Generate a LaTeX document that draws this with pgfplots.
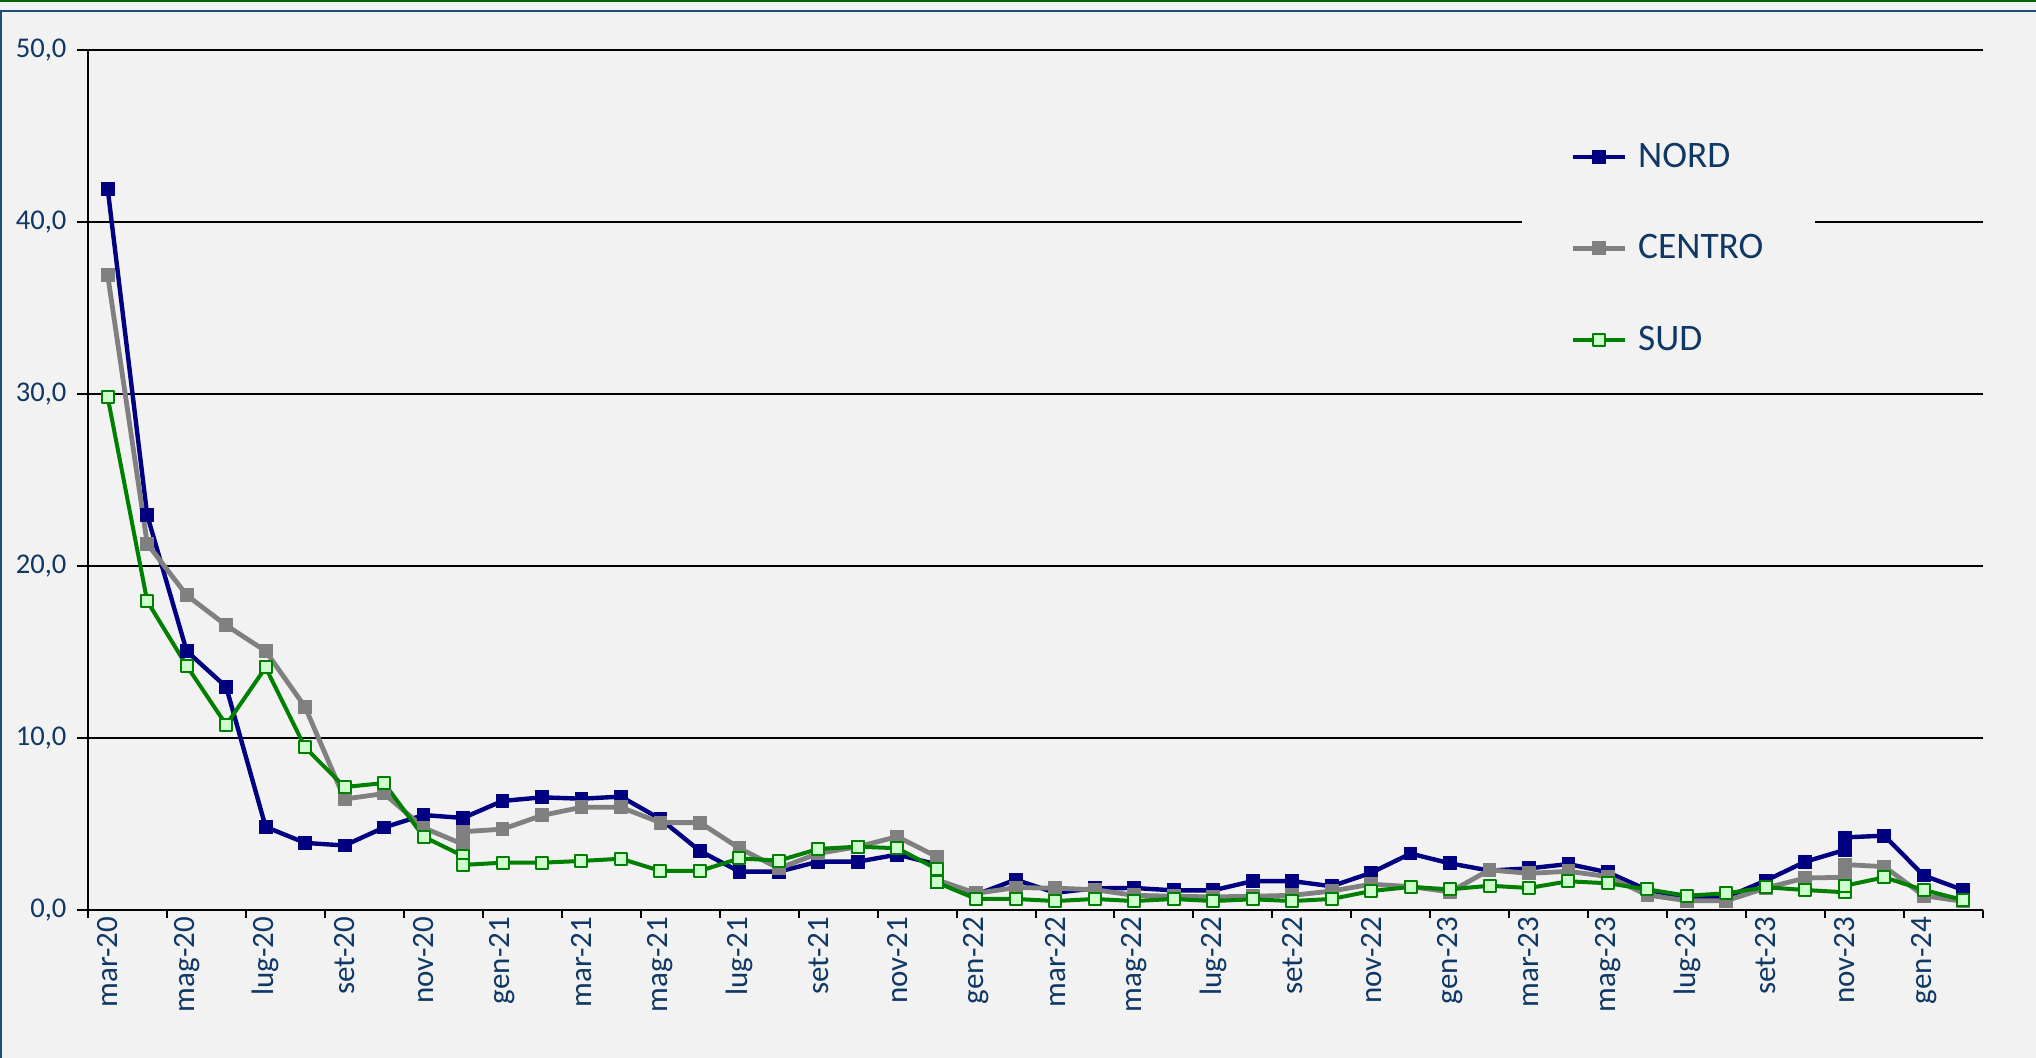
\documentclass[border=0pt]{standalone}
\usepackage{pgfplots}
\usepackage{pgfplotstable}
\pgfplotsset{compat=1.18}
\usepackage{fontspec}
\setmainfont{Carlito}
\definecolor{bgcol}{HTML}{F2F2F2}
\definecolor{txt}{RGB}{16,56,100}
\definecolor{nord}{HTML}{000080}
\definecolor{centro}{HTML}{808080}
\definecolor{sud}{HTML}{008000}
\definecolor{sudfill}{HTML}{CCFFCC}
\definecolor{frameblue}{HTML}{1F4E79}
\definecolor{topgreen}{HTML}{006400}

\pgfplotstableread{
x nord centro sud
0 41.9 36.9 29.8
1 22.95 21.3 17.95
2 15.05 18.3 14.2
3 12.97 16.55 10.77
4 4.83 15.05 14.1
5 3.9 11.8 9.45
6 3.75 6.45 7.15
7 4.8 6.77 7.38
8 5.52 4.78 4.26
9 5.35 3.82 3.14
9 5.35 4.55 2.62
10 6.34 4.7 2.75
11 6.55 5.5 2.75
12 6.47 5.97 2.85
13 6.59 5.97 2.98
14 5.29 5.08 2.27
15 3.43 5.08 2.27
16 2.23 3.59 3.0
17 2.23 2.42 2.87
18 2.81 3.29 3.55
19 2.81 3.68 3.68
20 3.22 4.26 3.59
21 2.65 3.1 2.38
21 1.65 1.75 1.6
22 0.9 0.97 0.64
23 1.76 1.3 0.64
24 1.0 1.27 0.52
25 1.26 1.18 0.64
26 1.28 0.85 0.52
27 1.14 0.8 0.64
28 1.14 0.76 0.52
29 1.68 0.8 0.62
30 1.68 0.85 0.52
31 1.38 1.1 0.64
32 2.16 1.5 1.1
33 3.28 1.36 1.34
34 2.71 1.05 1.2
35 2.29 2.33 1.41
36 2.42 2.13 1.28
37 2.67 2.25 1.67
38 2.19 1.94 1.55
39 1.16 0.87 1.2
40 0.74 0.54 0.83
41 0.74 0.54 0.97
42 1.71 1.28 1.32
43 2.81 1.86 1.16
44 3.49 1.9 1.03
44 4.22 2.64 1.41
45 4.32 2.52 1.9
46 2.0 0.83 1.16
47 1.16 0.5 0.58
}\data

\begin{document}
\begin{tikzpicture}
\fill[bgcol] (0,0) rectangle (1018pt,529pt);
\draw[topgreen, line width=1pt] (0,528.5pt) -- (1018pt,528.5pt);
\draw[frameblue, line width=1pt] (0.5pt,0) -- (0.5pt,523.5pt) -- (1018pt,523.5pt);
\begin{axis}[
  scale only axis, width=947.5pt, height=430pt,
  at={(44pt,74pt)}, anchor=south west,
  xmin=-0.5, xmax=47.5, ymin=0, ymax=50,
  axis x line*=bottom, axis y line*=left,
  axis line style={-, black, line width=1pt},
  tick align=outside,
  ytick={0,10,...,50},
  yticklabels={{0,0},{10,0},{20,0},{30,0},{40,0},{50,0}},
  ytick style={black, line width=1pt, /pgfplots/major tick length=5.5pt},
  yticklabel style={font=\fontsize{14.3}{16}\selectfont, text=txt, xshift=-3pt},
  ymajorgrids, major grid style={black, line width=0.9pt},
  xtick={-0.5,1.5,...,47.5},
  xticklabels={},
  xtick style={black, line width=1pt, /pgfplots/major tick length=4pt},
  extra x ticks={0,2,...,46},
  extra x tick labels={mar-20,mag-20,lug-20,set-20,nov-20,gen-21,mar-21,mag-21,lug-21,set-21,nov-21,gen-22,mar-22,mag-22,lug-22,set-22,nov-22,gen-23,mar-23,mag-23,lug-23,set-23,nov-23,gen-24},
  extra x tick style={/pgfplots/major tick length=0pt, xtick style={draw=none}},
  xticklabel style={rotate=90, anchor=east, font=\fontsize{15.5}{17}\selectfont, text=txt},
  legend style={at={(0.7567,0.7694)}, anchor=west, draw=none, fill=bgcol,
    font=\fontsize{18.7}{22}\selectfont, text=txt, inner xsep=24pt, inner ysep=14pt,
    row sep=28pt, /tikz/every odd column/.append style={column sep=3.5pt}},
  legend cell align=left,
  legend image code/.code={\draw[mark repeat=2, mark phase=2] plot coordinates {(0pt,0pt) (13pt,0pt) (26pt,0pt)};},
]
\addplot[nord, line width=2.2pt, line join=round, mark=square*, mark size=3.2pt, mark options={solid, fill=nord, line width=0.5pt}] table[x=x, y=nord]{\data};
\addplot[centro, line width=2.4pt, line join=round, mark=square*, mark size=3.2pt, mark options={solid, fill=centro, line width=0.5pt}] table[x=x, y=centro]{\data};
\addplot[sud, line width=2.0pt, line join=round, mark=square*, mark size=3.0pt, mark options={solid, draw=sud, fill=sudfill, line width=1pt}] table[x=x, y=sud]{\data};
\legend{NORD,CENTRO,SUD}
\end{axis}
\pgfresetboundingbox
\path[use as bounding box] (0,0) rectangle (1018pt,529pt);
\end{tikzpicture}
\end{document}
